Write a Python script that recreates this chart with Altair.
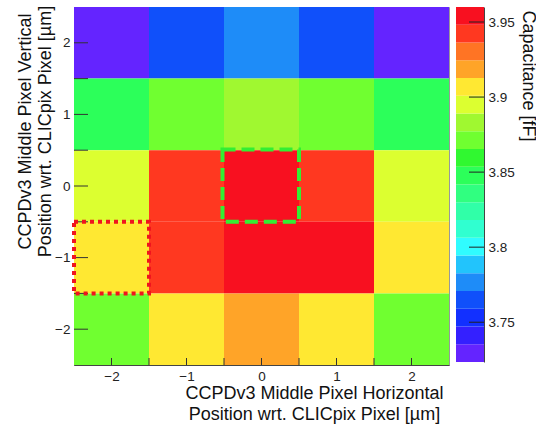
import altair as alt
import pandas as pd
import numpy as np

# ---- data ----
x_pos = [-2, -1, 0, 1, 2]
y_pos = [2, 1, 0, -1, -2]
cap_y_p2 = [3.7235, 3.764, 3.776, 3.766, 3.726]
cap_y_p1 = [3.848, 3.871, 3.883, 3.869, 3.846]
cap_y_0 = [3.895, 3.942, 3.960, 3.944, 3.894]
cap_y_m1 = [3.906, 3.941, 3.955, 3.953, 3.907]
cap_y_m2 = [3.873, 3.905, 3.919, 3.908, 3.870]

cap_min, cap_max = 3.7235, 3.96
n_bands = 20
palette = [
    "#6424ff", "#3420ff", "#1230ff", "#1050fa", "#1e8cf8",
    "#22c4fc", "#30fcff", "#30ffd0", "#30ffa8", "#30ff80",
    "#2cff5a", "#30f830", "#70ff30", "#a0f830", "#dcff30",
    "#ffe832", "#ffa428", "#ff7424", "#ff3820", "#f81020",
]
colorbar_ticks = [3.75, 3.8, 3.85, 3.9, 3.95]
axis_ticks = [-2, -1.5, -1, -0.5, 0, 0.5, 1, 1.5, 2]

green_box = {"x0": [-0.52], "x1": [0.5], "y0": [-0.5], "y1": [0.51]}
red_box = {"x0": [-2.5], "x1": [-1.5], "y0": [-1.5], "y1": [-0.5]}

FONT = "Liberation Sans"
W, H = 375, 358
CBW, CBH = 28, 355

rows = [cap_y_p2, cap_y_p1, cap_y_0, cap_y_m1, cap_y_m2]
cells = pd.DataFrame([
    {"x0": x - 0.5, "x1": x + 0.5, "y0": y - 0.5, "y1": y + 0.5, "cap": v}
    for y, row in zip(y_pos, rows) for x, v in zip(x_pos, row)
])

color_scale = alt.Scale(type="quantize", domain=[cap_min, cap_max], range=palette, nice=False)
xscale = alt.Scale(domain=[-2.5, 2.5], nice=False, zero=False)
yscale = alt.Scale(domain=[-2.5, 2.5], nice=False, zero=False)

xaxis = alt.Axis(
    values=[-2, -1, 0, 1, 2], ticks=False, tickSize=0, grid=False,
    labelPadding=4, domainColor="#444",
    title=["CCPDv3 Middle Pixel Horizontal", "Position wrt. CLICpix Pixel [µm]"],
    titleX=240, titleY=33, titleAlign="center", titleBaseline="alphabetic",
    titleLineHeight=21,
)
yaxis = alt.Axis(
    values=[-2, -1, 0, 1, 2], ticks=False, tickSize=0, grid=False,
    labelPadding=4, domainColor="#444",
    title=["CCPDv3 Middle Pixel Vertical", "Position wrt. CLICpix Pixel [µm]"],
    titleX=-44, titleY=124, titleAngle=-90, titleAlign="center",
    titleBaseline="alphabetic", titleLineHeight=20,
)
X = lambda f: alt.X(f, scale=xscale, axis=xaxis)
Y = lambda f: alt.Y(f, scale=yscale, axis=yaxis)

heat = alt.Chart(cells).mark_rect().encode(
    x=X("x0:Q"), x2="x1:Q",
    y=Y("y0:Q"), y2="y1:Q",
    color=alt.Color("cap:Q", scale=color_scale, legend=None),
)

xt = alt.Chart(pd.DataFrame({"x0": axis_ticks})).mark_rule(color="#333", strokeWidth=1).encode(
    x=X("x0:Q"), y=alt.value(H), y2=alt.value(H - 7)
)
yt = alt.Chart(pd.DataFrame({"y0": axis_ticks})).mark_rule(color="#333", strokeWidth=1).encode(
    y=Y("y0:Q"), x=alt.value(0), x2=alt.value(14)
)

gbox = alt.Chart(pd.DataFrame(green_box)).mark_rect(
    fill="transparent", stroke="#33ee33", strokeWidth=4, strokeDash=[13, 6]
).encode(x=X("x0:Q"), x2="x1:Q", y=Y("y0:Q"), y2="y1:Q")
rbox = alt.Chart(pd.DataFrame(red_box)).mark_rect(
    fill="transparent", stroke="#f0141e", strokeWidth=4, strokeDash=[4, 4]
).encode(x=X("x0:Q"), x2="x1:Q", y=Y("y0:Q"), y2="y1:Q")

left = alt.layer(heat, xt, yt, gbox, rbox).properties(width=W, height=H)

# ---- colour bar ----
edges = np.linspace(cap_min, cap_max, n_bands + 1)
bands = pd.DataFrame({"lo": edges[:-1], "hi": edges[1:], "mid": (edges[:-1] + edges[1:]) / 2})
cbscale = alt.Scale(domain=[cap_min, cap_max], nice=False, zero=False)
cbaxis = alt.Axis(
    orient="right", values=colorbar_ticks, ticks=False, tickSize=0, grid=False,
    labelExpr="format(datum.value, '~g')", labelPadding=4, domainColor="#444",
    title="Capacitance [fF]", titleAngle=90, titleX=38, titleY=3,
    titleAlign="left", titleBaseline="alphabetic",
)

cb = alt.Chart(bands).mark_rect().encode(
    y=alt.Y("lo:Q", scale=cbscale, axis=cbaxis),
    y2="hi:Q",
    x=alt.value(0), x2=alt.value(CBW),
    color=alt.Color("mid:Q", scale=color_scale, legend=None),
)
cbt = alt.Chart(pd.DataFrame({"lo": colorbar_ticks})).mark_rule(color="#222", strokeWidth=1).encode(
    y=alt.Y("lo:Q", scale=cbscale, axis=cbaxis), x=alt.value(CBW - 15), x2=alt.value(CBW)
)
right = alt.layer(cb, cbt).properties(
    width=CBW, height=CBH, view=alt.ViewBackground(strokeOpacity=0)
)

chart = alt.hconcat(left, right, spacing=6).properties(
    padding={"left": 15, "top": 4, "right": 0, "bottom": 0},
    background="white",
).configure_view(stroke="#999", strokeWidth=1).configure_axis(
    labelFont=FONT, labelFontSize=13.5, labelColor="#222",
    titleFont=FONT, titleFontSize=18, titleFontWeight="normal", titleColor="#111",
).configure_concat(spacing=6)

chart.save("out.html", embed_options={"renderer": "svg", "actions": False})
